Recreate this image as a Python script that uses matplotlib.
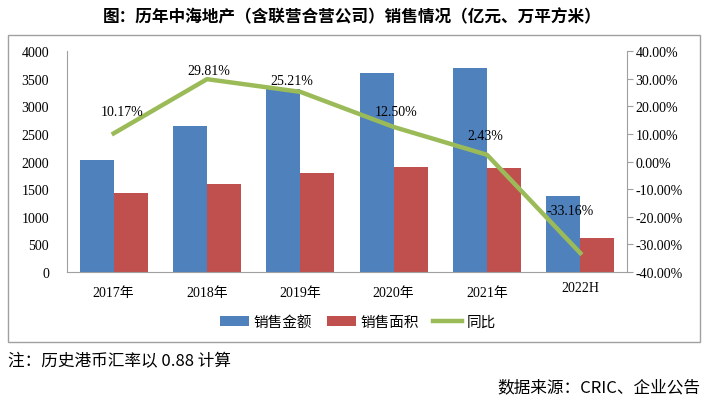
import matplotlib
matplotlib.use("Agg")
import matplotlib.pyplot as plt
from matplotlib.patches import Rectangle
import numpy as np

plt.rcParams['font.family'] = ['Liberation Serif', 'Noto Sans CJK SC']

# data
years = ['2017年', '2018年', '2019年', '2020年', '2021年', '2022H']
sales_amount = [2030, 2640, 3310, 3600, 3690, 1380]   # 销售金额 (亿元)
sales_area = [1430, 1590, 1790, 1905, 1885, 615]      # 销售面积 (万平方米)
yoy = [10.17, 29.81, 25.21, 12.50, 2.43, -33.16]      # 同比 (%)
yoy_labels = ['10.17%', '29.81%', '25.21%', '12.50%', '2.43%', '-33.16%']
# label offsets in points (dx, dy)
label_offsets = [(6, 16), (1, 6), (-6, 8), (2, 11), (-1, 14), (-7, 31)]

blue = '#4F81BD'
red = '#C0504D'
green = '#9BBB59'

fig = plt.figure(figsize=(7.03, 4.06), dpi=100)

# outer frame around the chart
fig.patches.append(Rectangle((8 / 703, 1 - 343 / 406), 692 / 703, 307 / 406,
                             transform=fig.transFigure, fill=False,
                             edgecolor='#A0A0A0', linewidth=1.0))

ax = fig.add_axes([67 / 703, 1 - 273 / 406, 560 / 703, 221 / 406])
x = np.arange(len(years))
w = 0.365
b1 = ax.bar(x - w / 2, sales_amount, w, color=blue, label='销售金额', zorder=2)
b2 = ax.bar(x + w / 2, sales_area, w, color=red, label='销售面积', zorder=2)
ax.set_xlim(-0.5, len(years) - 0.5)
ax.set_ylim(0, 4000)
ax.set_yticks(range(0, 4001, 500))
ax.tick_params(axis='y', length=0, labelsize=10, pad=13)
ax.tick_params(axis='x', length=0, labelsize=10, pad=10)
ax.set_xticks(x)
ax.set_xticklabels(years)
for lbl in ax.get_xticklabels():
    if lbl.get_text() == '2022H':
        lbl.set_y(0.02)
for s in ['top', 'right']:
    ax.spines[s].set_visible(False)
ax.spines['left'].set_color('#A0A0A0')
ax.spines['bottom'].set_color('#A0A0A0')

ax2 = ax.twinx()
ln, = ax2.plot(x, yoy, color=green, linewidth=3.2, label='同比', zorder=3)
ax2.set_ylim(-40, 40)
ax2.set_yticks(range(-40, 41, 10))
ax2.set_yticklabels([f'{v:.2f}%' for v in range(-40, 41, 10)])
ax2.tick_params(axis='y', length=4, color='#A0A0A0', labelsize=10, pad=2)
for s in ['top', 'left', 'bottom']:
    ax2.spines[s].set_visible(False)
ax2.spines['right'].set_color('#A0A0A0')

for xi, v, t, off in zip(x, yoy, yoy_labels, label_offsets):
    ax2.annotate(t, (xi, v), xytext=off, textcoords='offset points',
                 ha='center', va='center', fontsize=10, color='#000000', zorder=4)

fig.legend([b1, b2, ln], ['销售金额', '销售面积', '同比'],
           loc='center', bbox_to_anchor=(358 / 703, 1 - 323 / 406), ncol=3,
           frameon=False, handlelength=2.0, handletextpad=0.3,
           columnspacing=1.0, prop={'family': ['Noto Sans CJK SC'], 'size': 10.5})

fig.text(352 / 703, 1 - 17 / 406, '图：历年中海地产（含联营合营公司）销售情况（亿元、万平方米）',
         ha='center', va='center', fontsize=12, fontweight='bold',
         family=['Noto Sans CJK SC'])
fig.text(8 / 703, 1 - 362 / 406, '注：历史港币汇率以 0.88 计算', ha='left', va='center',
         fontsize=12, family=['Noto Sans CJK SC'])
fig.text(700 / 703, 1 - 388 / 406, '数据来源：CRIC、企业公告', ha='right', va='center',
         fontsize=12, family=['Noto Sans CJK SC'])

fig.savefig('out.png', dpi=100)
